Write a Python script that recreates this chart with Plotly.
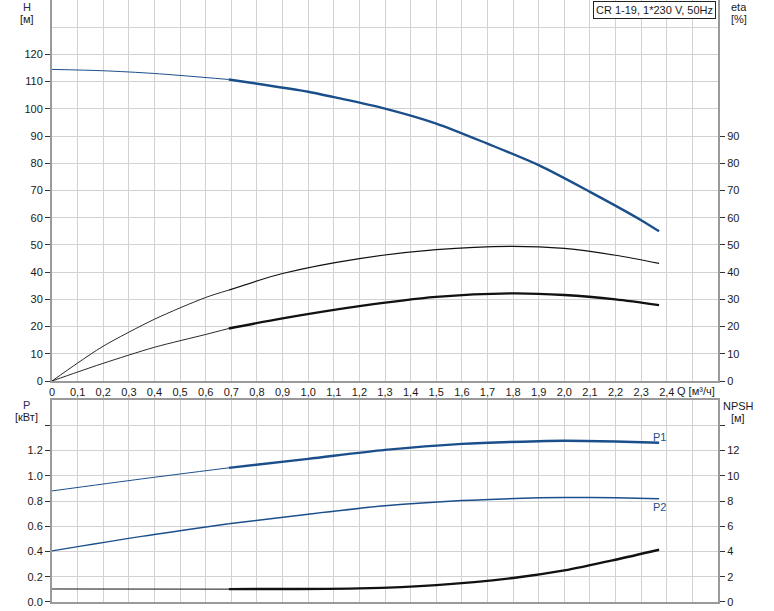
import plotly.graph_objects as go

# ---------------- data ----------------
Q_SPLIT = 0.69  # thin line before, thick line after

q_H = [0, 0.2, 0.4, 0.69, 1.0, 1.1, 1.3, 1.5, 1.7, 1.9, 2.1, 2.3, 2.37]
H = [114.5, 114.0, 113.0, 110.8, 106.3, 104.3, 100.1, 94.6, 87.2, 79.3, 69.5, 59.1, 55.0]

q_eta = [0, 0.1, 0.2, 0.4, 0.6, 0.69, 0.9, 1.2, 1.5, 1.8, 2.0, 2.2, 2.37]
eta_upper = [0, 6.6, 12.8, 22.7, 30.7, 33.4, 39.5, 45.0, 48.3, 49.5, 48.7, 46.2, 43.2]
eta_lower = [0, 3.3, 6.5, 12.4, 17.1, 19.3, 23.0, 27.5, 30.9, 32.2, 31.6, 30.0, 27.9]

q_P = [0, 0.35, 0.69, 1.0, 1.3, 1.6, 1.9, 2.0, 2.2, 2.37]
P1 = [0.88, 0.975, 1.063, 1.134, 1.205, 1.253, 1.274, 1.277, 1.271, 1.261]
P2 = [0.405, 0.52, 0.62, 0.696, 0.762, 0.804, 0.825, 0.828, 0.825, 0.818]

q_npsh = [0, 0.69, 0.9, 1.2, 1.5, 1.8, 2.0, 2.2, 2.37]
NPSH = [1.03, 1.02, 1.03, 1.08, 1.34, 1.90, 2.50, 3.35, 4.14]

x_ticks = [round(i * 0.1, 1) for i in range(27)]
x_ticktext = [("0" if v == 0 else f"{v:.1f}".replace(".", ",")) if v <= 2.4 else "" for v in x_ticks]
h_ticks = list(range(0, 130, 10))
eta_ticks = list(range(0, 100, 10))
p_ticks = [0.0, 0.2, 0.4, 0.6, 0.8, 1.0, 1.2, 1.4]
p_ticktext = ["0.0", "0.2", "0.4", "0.6", "0.8", "1.0", "1.2", ""]
npsh_ticks = [0, 2, 4, 6, 8, 10, 12, 14]
npsh_ticktext = ["0", "2", "4", "6", "8", "10", "12", ""]

TITLE = "CR 1-19, 1*230 V, 50Hz"

# ---------------- styles ----------------
BLUE = "#1b4f8b"
FONT = "Liberation Sans, Arial, sans-serif"
GRID = "#d2d2d2"
AXIS = "#9a9a9a"
TXT = "#1a1a1a"


def split(q, v):
    i = q.index(Q_SPLIT)
    return (q[: i + 1], v[: i + 1]), (q[i:], v[i:])


fig = go.Figure()


def add(q, v, color, w_thin, w_thick, xa, ya):
    (qa, va), (qb, vb) = split(q, v)
    fig.add_trace(go.Scatter(x=qa, y=va, mode="lines",
                             line=dict(color=color, width=w_thin, shape="spline", smoothing=0.8),
                             xaxis=xa, yaxis=ya, hoverinfo="skip", showlegend=False))
    fig.add_trace(go.Scatter(x=qb, y=vb, mode="lines",
                             line=dict(color=color, width=w_thick, shape="spline", smoothing=0.8),
                             xaxis=xa, yaxis=ya, hoverinfo="skip", showlegend=False))


add(q_H, H, BLUE, 1.0, 2.4, "x", "y")
add(q_eta, eta_upper, "#111111", 0.9, 1.2, "x", "y2")
add(q_eta, eta_lower, "#111111", 0.9, 2.4, "x", "y2")
add(q_P, P1, BLUE, 1.0, 2.4, "x2", "y3")
add(q_P, P2, BLUE, 1.3, 1.5, "x2", "y3")
add(q_npsh, NPSH, "#111111", 1.0, 2.4, "x2", "y4")

tickfont = dict(family=FONT, size=11, color=TXT)
XR = [0, 2.6]

fig.update_layout(
    width=774, height=611,
    margin=dict(l=52, r=56, t=0, b=9),
    paper_bgcolor="white", plot_bgcolor="white",
    showlegend=False,
    xaxis=dict(domain=[0, 1], anchor="y", range=XR, tickmode="array", tickvals=x_ticks, ticktext=x_ticktext,
               showgrid=True, gridcolor=GRID, gridwidth=1, showline=True, linecolor=AXIS, linewidth=2,
               ticks="", tickfont=tickfont, zeroline=False, fixedrange=True),
    yaxis=dict(domain=[0.3671, 1.0], anchor="x", range=[0, 140], tickmode="array", tickvals=h_ticks,
               showgrid=True, gridcolor=GRID, gridwidth=1, showline=True, linecolor=AXIS, linewidth=2,
               ticks="outside", ticklen=5, tickcolor="#333", tickfont=tickfont, zeroline=False,
               minor=dict(tickvals=[130], showgrid=True, gridcolor=GRID, ticks="")),
    yaxis2=dict(overlaying="y", side="right", anchor="x", range=[0, 140], tickmode="array", tickvals=eta_ticks,
                showgrid=False, showline=True, linecolor=AXIS, linewidth=2, ticks="outside", ticklen=5,
                tickcolor="#333", tickfont=tickfont, zeroline=False),
    xaxis2=dict(domain=[0, 1], anchor="y3", range=XR, tickmode="array", tickvals=x_ticks, showticklabels=False,
                showgrid=True, gridcolor=GRID, gridwidth=1, showline=True, mirror=True, linecolor=AXIS,
                linewidth=2, ticks="", zeroline=False),
    yaxis3=dict(domain=[0.0, 0.3355], anchor="x2", range=[0, 1.6], tickmode="array", tickvals=p_ticks,
                ticktext=p_ticktext, showgrid=True, gridcolor=GRID, gridwidth=1, showline=True, linecolor=AXIS,
                linewidth=2, ticks="outside", ticklen=5, tickcolor="#333", tickfont=tickfont, zeroline=False),
    yaxis4=dict(overlaying="y3", side="right", anchor="x2", range=[0, 16], tickmode="array", tickvals=npsh_ticks,
                ticktext=npsh_ticktext, showgrid=False, showline=True, linecolor=AXIS, linewidth=2,
                ticks="outside", ticklen=5, tickcolor="#333", tickfont=tickfont, zeroline=False),
)


def px(x):
    return (x - 52) / 666.0


def py(y):
    return (602 - y) / 602.0


def label(text, x, y, xanchor="center", color=TXT, size=11):
    fig.add_annotation(text=text, xref="paper", yref="paper", x=px(x), y=py(y), xanchor=xanchor,
                       yanchor="middle", showarrow=False, font=dict(family=FONT, size=size, color=color))


label("H", 27, 7, color="#2a2a55")
label("[м]", 27, 19)
label("eta", 739, 7)
label("[%]", 739, 19)
label("P", 26, 405, color="#2a2a55")
label("[кВт]", 26, 417)
label("NPSH", 738, 406)
label("[м]", 738, 418)

fig.add_annotation(text="Q [м³/ч]", xref="x", yref="paper", x=2.515, y=py(391), xanchor="center",
                   yanchor="middle", showarrow=False, font=dict(family=FONT, size=11, color=TXT))

fig.add_annotation(text=TITLE, xref="paper", yref="paper", x=px(716), y=py(1), xanchor="right", yanchor="top",
                   showarrow=False, bordercolor="#222", borderwidth=1, borderpad=2, bgcolor="white",
                   font=dict(family=FONT, size=11, color=TXT))

fig.add_annotation(text="P1", xref="x2", yref="y3", x=q_P[-1], y=P1[-1], xanchor="center", yanchor="bottom",
                   yshift=-2, showarrow=False, font=dict(family=FONT, size=11, color=BLUE))
fig.add_annotation(text="P2", xref="x2", yref="y3", x=q_P[-1], y=P2[-1], xanchor="center", yanchor="top",
                   yshift=0, showarrow=False, font=dict(family=FONT, size=11, color=BLUE))

fig.write_html("out.html", config={"displayModeBar": False},
               post_script="document.body.style.margin='0';document.body.style.overflow='hidden';")
